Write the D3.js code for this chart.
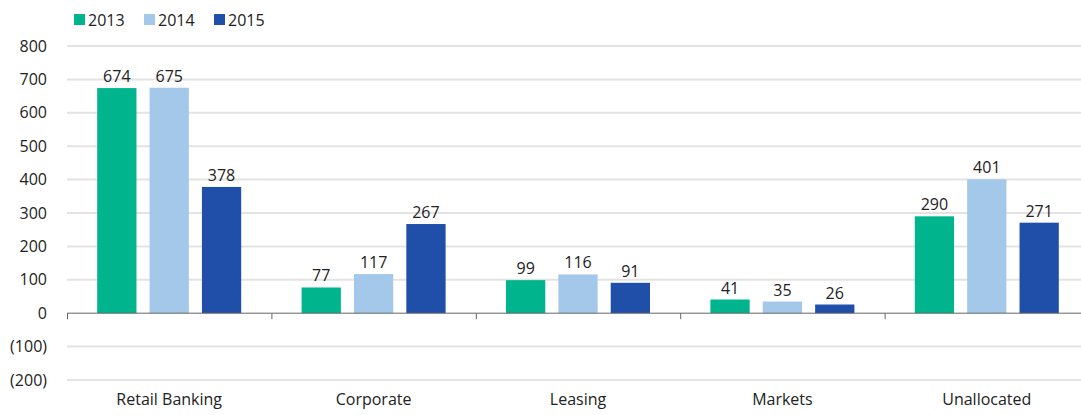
<!DOCTYPE html>
<html>
<head>
<script src="https://cdn.jsdelivr.net/npm/d3@7"></script>
</head>
<body style="margin:0; background:#fff;">
<div id="chart"></div>
<script>
    'use strict';

    var categories = ["Retail Banking", "Corporate", "Leasing", "Markets", "Unallocated"];
    var years = ["2013", "2014", "2015"];
    var values2013 = [674, 77, 99, 41, 290];
    var values2014 = [675, 117, 116, 35, 401];
    var values2015 = [378, 267, 91, 26, 271];
    var yTicks = [800, 700, 600, 500, 400, 300, 200, 100, 0, -100, -200];
    var colors = ["#00b48d", "#a3c8ea", "#1f4fa8"];

    var series = [values2013, values2014, values2015];
    var width = 1081, height = 415;
    var font = "'Open Sans', 'Noto Sans', sans-serif";

    var svg = d3.select("#chart").append("svg")
        .attr("width", width)
        .attr("height", height)
        .style("font-family", font);

    var x = d3.scaleBand().domain(categories).range([67, 1089]);
    var y = d3.scaleLinear().domain([-200, 800]).range([380, 46]);
    var xs = d3.scaleBand().domain(years).range([-72, 72]).paddingInner(0.25).paddingOuter(0);

    // gridlines
    svg.append("g").selectAll("line")
        .data(yTicks.filter(function(d) { return d != 0; }))
        .join("line")
        .attr("x1", 67).attr("x2", width)
        .attr("y1", function(d) { return y(d); })
        .attr("y2", function(d) { return y(d); })
        .attr("stroke", "#e3e3e3")
        .attr("stroke-width", 2);

    // y labels
    svg.append("g").selectAll("text")
        .data(yTicks)
        .join("text")
        .attr("x", 47)
        .attr("y", function(d) { return y(d); })
        .attr("dy", "0.35em")
        .attr("text-anchor", "end")
        .attr("font-size", 16)
        .attr("fill", "#222")
        .text(function(d) { return d < 0 ? "(" + (-d) + ")" : d; });

    // bars
    var groups = svg.append("g").selectAll("g")
        .data(categories)
        .join("g")
        .attr("transform", function(d) { return "translate(" + (x(d) + x.bandwidth() / 2) + ",0)"; });

    groups.each(function(cat, ci) {
        var g = d3.select(this);
        years.forEach(function(yr, si) {
            var v = series[si][ci];
            g.append("rect")
                .attr("x", xs(yr))
                .attr("width", xs.bandwidth())
                .attr("y", y(v))
                .attr("height", y(0) - y(v))
                .attr("fill", colors[si]);
            g.append("text")
                .attr("x", xs(yr) + xs.bandwidth() / 2)
                .attr("y", y(v) - 6)
                .attr("text-anchor", "middle")
                .attr("font-size", 16)
                .attr("fill", "#222")
                .text(v);
        });
    });

    // zero axis with ticks between categories
    var axis = svg.append("g");
    axis.append("line")
        .attr("x1", 67).attr("x2", width)
        .attr("y1", y(0)).attr("y2", y(0))
        .attr("stroke", "#666").attr("stroke-width", 1);
    axis.selectAll("line.tick")
        .data(categories)
        .join("line")
        .attr("class", "tick")
        .attr("x1", function(d) { return x(d) + 0.5; })
        .attr("x2", function(d) { return x(d) + 0.5; })
        .attr("y1", y(0)).attr("y2", y(0) + 6)
        .attr("stroke", "#666");

    // category labels
    svg.append("g").selectAll("text")
        .data(categories)
        .join("text")
        .attr("x", function(d) { return x(d) + x.bandwidth() / 2; })
        .attr("y", 405)
        .attr("text-anchor", "middle")
        .attr("font-size", 16)
        .attr("fill", "#222")
        .text(function(d) { return d; });

    // legend
    var legend = svg.append("g").selectAll("g")
        .data(years)
        .join("g")
        .attr("transform", function(d, i) { return "translate(" + (74 + i * 70) + ",14)"; });
    legend.append("rect")
        .attr("width", 11).attr("height", 11)
        .attr("fill", function(d, i) { return colors[i]; });
    legend.append("text")
        .attr("x", 14).attr("y", 6)
        .attr("dy", "0.35em")
        .attr("font-size", 16)
        .attr("fill", "#222")
        .text(function(d) { return d; });
</script>
</body>
</html>
